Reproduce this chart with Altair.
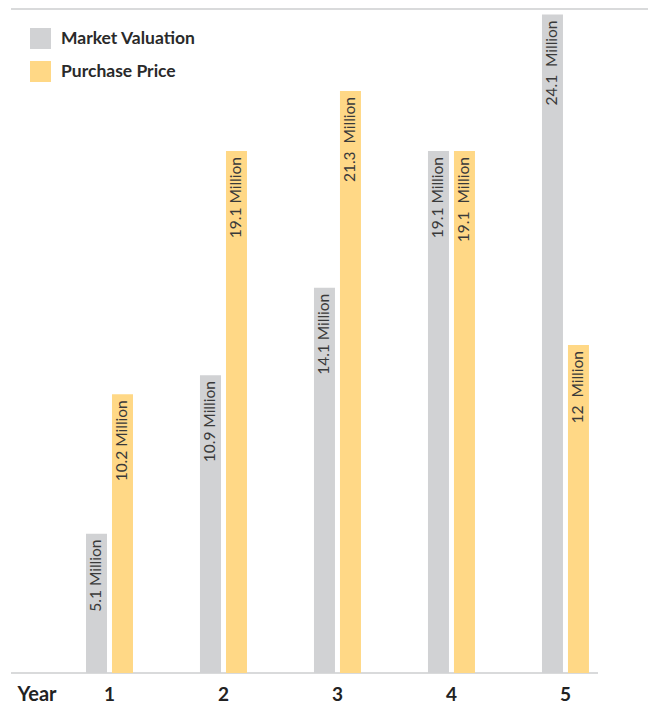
import altair as alt
import pandas as pd

years = ["1", "2", "3", "4", "5"]
series = ["Market Valuation", "Purchase Price"]
market = [5.1, 10.9, 14.1, 19.1, 24.1]
purchase = [10.2, 19.1, 21.3, 19.1, 12]
market_labels = ["5.1 Million", "10.9 Million", "14.1 Million", "19.1 Million", "24.1\u00a0 Million"]
purchase_labels = ["10.2 Million", "19.1 Million", "21.3\u00a0 Million", "19.1\u00a0 Million", "12\u00a0 Million"]
colors = ["#d1d2d4", "#ffd886"]

df_m = pd.DataFrame({"year": years, "series": series[0], "value": market, "label": market_labels})
df_p = pd.DataFrame({"year": years, "series": series[1], "value": purchase, "label": purchase_labels})

W, H = 637, 664
FONT = "Lato"

xscale = alt.Scale(domain=years, paddingInner=0, paddingOuter=0.294, align=0.619)
x = alt.X("year:N", scale=xscale,
          axis=alt.Axis(title="Year", titleX=6, titleY=21, titleAlign="left", titleBaseline="middle",
                        titleFontSize=20, titleFont=FONT, titleFontWeight="bold", titleColor="#222",
                        labelAngle=0, labelFontSize=19, labelFont=FONT, labelFontWeight="bold",
                        labelColor="#222", labelBaseline="middle", labelPadding=21,
                        ticks=False, domain=False, grid=False))
y = alt.Y("value:Q", scale=alt.Scale(domain=[0, 24.3], nice=False, zero=True), axis=None)
color = alt.Color("series:N", scale=alt.Scale(domain=series, range=colors),
                  legend=alt.Legend(title=None, orient="none", legendX=19, legendY=19,
                                    symbolType="square", symbolSize=441, symbolStrokeWidth=0,
                                    symbolOpacity=1, labelFont=FONT, labelFontSize=17.5,
                                    labelFontWeight="bold", labelColor="#2a2a2a", labelOffset=10,
                                    rowPadding=12))

def bar_layer(df, off):
    b = alt.Chart(df).mark_bar(width=21, xOffset=off).encode(x=x, y=y, color=color)
    t = alt.Chart(df).mark_text(angle=270, align="right", baseline="middle", dx=-6, xOffset=off,
                                font=FONT, fontSize=15.5, color="#3a3a3a").encode(
        x=alt.X("year:N", scale=xscale), y="value:Q", text="label:N")
    return b, t

bm, tm = bar_layer(df_m, -13)
bp, tp = bar_layer(df_p, 13)

base_rule = alt.Chart(df_m).mark_rule(color="#d9dadb", strokeWidth=2).encode(
    x=alt.value(0), x2=alt.value(587), y=alt.value(H)
)
top_rule = alt.Chart(df_m).mark_rule(color="#d9dadb", strokeWidth=2).encode(
    x=alt.value(0), x2=alt.value(W), y=alt.value(0)
)

chart = alt.layer(top_rule, base_rule, bm, bp, tm, tp).properties(
    width=W, height=H,
    autosize=alt.AutoSizeParams(type="none"),
    padding={"left": 3, "top": 1, "right": 0, "bottom": 32},
).configure_view(stroke=None)

chart.save("out.html", embed_options={"renderer": "svg", "actions": False})
